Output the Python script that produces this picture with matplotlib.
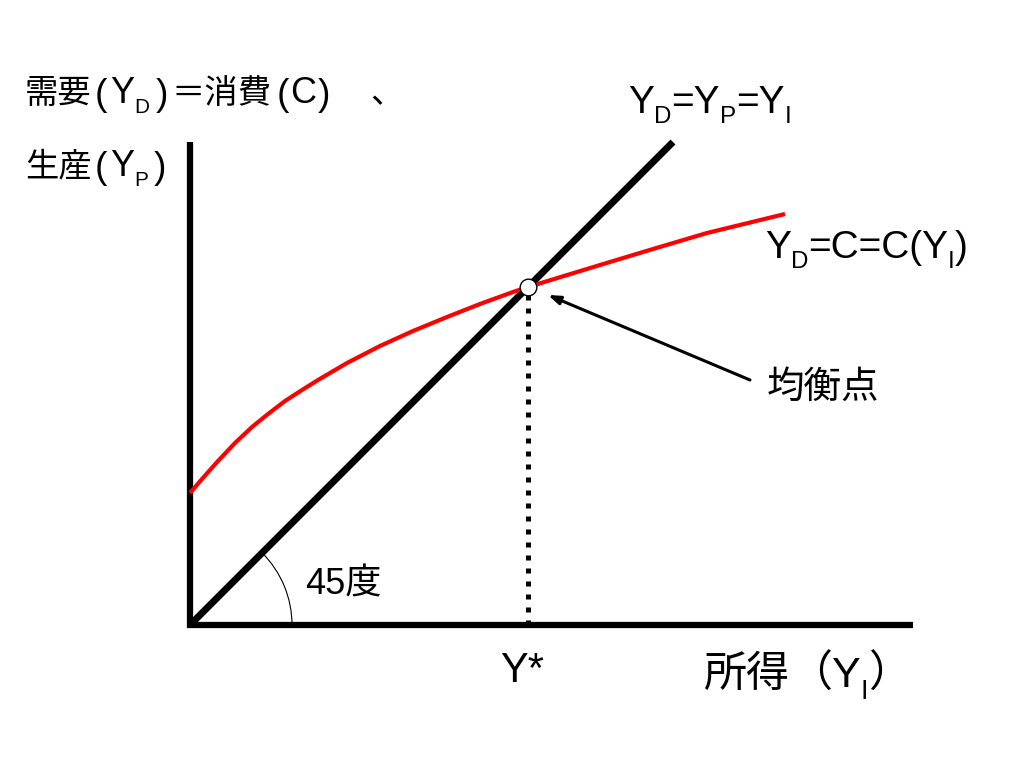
import matplotlib
matplotlib.use("Agg")
import matplotlib.pyplot as plt
from matplotlib.patches import Arc

# ---- data (diagram units: 1 unit = 1 px, origin at the axes corner) ----
consumption_x = [0, 12, 28, 45, 62, 78, 95, 112, 128, 157, 190, 223, 257, 290, 323, 338,
                 410, 463, 517, 595]
consumption_y = [132, 146, 164, 182, 198, 211, 224, 235, 245, 262, 279, 294, 308, 321, 333, 338,
                 360, 376, 392, 411]
line45_x = [0, 483]
line45_y = [0, 483]
y_axis_top = 483
x_axis_right = 723
equilibrium = 338
arc_radius = 102

FAM = ['Liberation Sans', 'Noto Sans CJK JP']

fig = plt.figure(figsize=(10.24, 7.68), dpi=100)
ax = fig.add_axes([0, 0, 1, 1])
ax.set_xlim(-190, 834)
ax.set_ylim(-143, 625)
ax.axis('off')

# axes
ax.plot([0, 0], [-3, y_axis_top], color='black', lw=4.5, solid_capstyle='butt')
ax.plot([-3, x_axis_right], [0, 0], color='black', lw=4.5, solid_capstyle='butt')
# 45 degree line
ax.plot(line45_x, line45_y, color='black', lw=5, solid_capstyle='butt')
# consumption curve
ax.plot(consumption_x, consumption_y, color='#ff0000', lw=3, solid_capstyle='butt',
        solid_joinstyle='round')
# dotted drop line
ax.plot([equilibrium, equilibrium], [0, equilibrium - 8], color='black', lw=3.6,
        linestyle=(0, (1, 1.6)), dash_capstyle='butt')
# equilibrium marker
ax.plot([equilibrium], [equilibrium], marker='o', markersize=12, markerfacecolor='white',
        markeredgecolor='black', markeredgewidth=1, zorder=5)
# arc for 45 degrees
ax.add_patch(Arc((0, 0), 2 * arc_radius, 2 * arc_radius, theta1=0, theta2=45,
                 color='black', lw=0.8))
# arrow
ax.annotate('', xy=(equilibrium + 20, equilibrium - 8), xytext=(560, 245),
            arrowprops=dict(arrowstyle='-|>,head_length=0.7,head_width=0.25',
                            color='black', lw=2.2, shrinkA=0, shrinkB=0))

fig.canvas.draw()
renderer = fig.canvas.get_renderer()


def runs(x, y, pieces, size, sub_scale=0.62, sub_drop=10):
    cx = x
    for txt, kind in pieces:
        if kind == 'g':
            cx += txt
            continue
        if kind == 's':
            t = ax.text(cx, y - sub_drop, txt, fontsize=size * sub_scale, family=FAM,
                        ha='left', va='baseline')
        elif kind == 'p':
            t = ax.text(cx, y - 2, txt, fontsize=size * 1.12, family=FAM,
                        ha='left', va='baseline')
        elif kind == 'L':
            t = ax.text(cx, y, txt, fontsize=size * 1.08, family=FAM,
                        ha='left', va='baseline')
        else:
            t = ax.text(cx, y, txt, fontsize=size, family=FAM, ha='left', va='baseline')
        cx += t.get_window_extent(renderer).width


runs(-165, 522, [("需要", 'n'), (3, 'g'), ("(", 'p'), (3, 'g'), ("Y", 'L'),
                 ("D", 's'), (6, 'g'), (")", 'p'), (4, 'g'), ("＝消費", 'n'), (5, 'g'), ("(", 'p'),
                 (1, 'g'), ("C", 'L'), (1, 'g'), (")", 'p'), (40, 'g'), ("、", 'n')], 24)
runs(-165, 449, [("生産", 'n'), (3, 'g'), ("(", 'p'), (3, 'g'), ("Y", 'L'),
                 ("P", 's'), (6, 'g'), (")", 'p')], 24)
runs(438, 512, [("Y", 'n'), ("D", 's'), ("=Y", 'n'), ("P", 's'), ("=Y", 'n'), ("I", 's')], 28)
runs(575, 367, [("Y", 'n'), ("D", 's'), ("=C=C(Y", 'n'), ("I", 's'), (")", 'n')], 28)
ax.text(577, 237, "均衡点", fontsize=27, family=FAM, ha='left', va='center')
ax.text(115, 40, "45度", fontsize=26, family=FAM, ha='left', va='center')
runs(310, -57, [("Y*", 'n')], 30)
runs(513, -62, [("所得", 'n'), ("（", 'n'), ("Y", 'n'), ("I", 's'), ("）", 'n')], 31, sub_drop=12)

fig.savefig('out.png', dpi=100, facecolor='white')
